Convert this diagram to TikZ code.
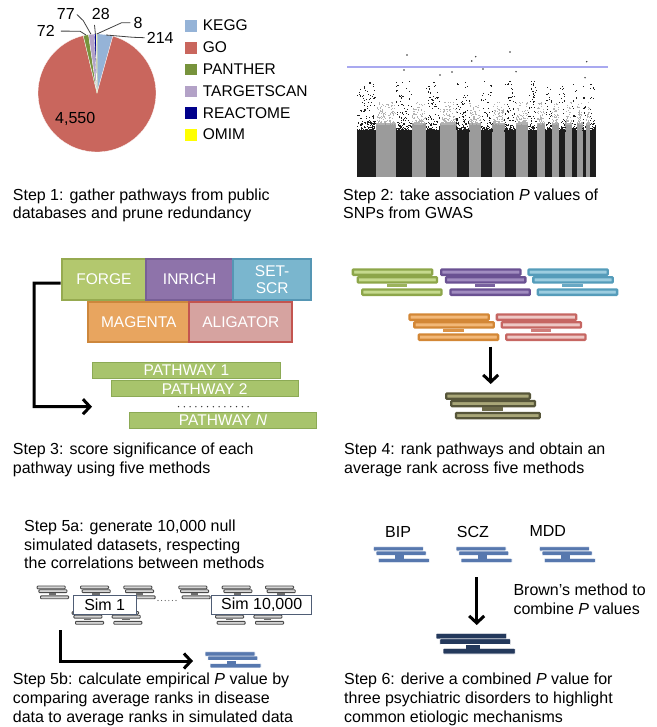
\documentclass[tikz,border=0pt]{standalone}
\usepackage{fontspec}
\setmainfont{Liberation Sans}
\usetikzlibrary{arrows.meta}
\definecolor{cKEGG}{HTML}{95B3D7}
\definecolor{cGO}{HTML}{C9665D}
\definecolor{cPAN}{HTML}{77933C}
\definecolor{cTS}{HTML}{B3A2C7}
\definecolor{cREA}{HTML}{00008B}
\definecolor{cOMIM}{HTML}{FFFF00}
\definecolor{gD}{HTML}{8DA64A}\definecolor{gL}{HTML}{C6DA8E}
\definecolor{pD}{HTML}{6A5192}\definecolor{pL}{HTML}{A18CC0}
\definecolor{bD}{HTML}{559CBA}\definecolor{bL}{HTML}{9CCDE0}
\definecolor{oD}{HTML}{D38736}\definecolor{oL}{HTML}{F2B878}
\definecolor{rD}{HTML}{C66662}\definecolor{rL}{HTML}{EEC8C5}
\definecolor{olD}{HTML}{57563A}\definecolor{olL}{HTML}{A9A778}
\definecolor{simD}{HTML}{4A4A4A}\definecolor{simL}{HTML}{D4D4D4}
\definecolor{stBlue}{HTML}{5778AE}
\definecolor{navy}{HTML}{24395C}
\definecolor{mgray}{HTML}{9B9B9B}
\definecolor{mgrayd}{HTML}{B2B2B2}
\definecolor{mblack}{HTML}{1E1E1E}
\definecolor{thr}{HTML}{A9A9F0}
\definecolor{forgeF}{HTML}{B3C86E}\definecolor{forgeD}{HTML}{96AA50}
\definecolor{inrF}{HTML}{8E73AA}\definecolor{inrD}{HTML}{785F96}
\definecolor{setF}{HTML}{7AB6CE}\definecolor{setD}{HTML}{5596B4}
\definecolor{magF}{HTML}{E8A55F}\definecolor{magD}{HTML}{CD873C}
\definecolor{aliF}{HTML}{D6A3A0}\definecolor{aliD}{HTML}{C35550}
\definecolor{pathF}{HTML}{A8C46C}\definecolor{pathD}{HTML}{8CAA55}
\definecolor{simB}{HTML}{4F5D75}

\tikzset{
  captxt/.style={anchor=north west, inner sep=0pt, align=left, font=\fontsize{16}{18.8}\selectfont},
  legtxt/.style={anchor=base west, inner sep=0pt, font=\fontsize{15.5}{17}\selectfont},
  numtxt/.style={anchor=base west, inner sep=0pt, font=\fontsize{16}{18}\selectfont},
  leader/.style={draw=black!75, line width=0.8},
  mbox/.style={rectangle, line width=2.2, text=white, inner sep=0pt, align=center, font=\fontsize{15.5}{16.5}\selectfont},
  pbar/.style={rectangle, fill=pathF, draw=pathD, line width=1, text=white, inner sep=0pt, minimum height=15.6, minimum width=187.3, font=\fontsize{15.5}{16}\selectfont},
  bigarrow/.style={line width=3, -{Straight Barb[length=7pt,width=15pt]}},
  simbox/.style={rectangle, fill=white, draw=simB, line width=0.8, inner sep=0pt, minimum height=19, font=\fontsize{16}{18}\selectfont},
}

% outlined stack: x y W h dark light lw
\newcommand\ostack[7]{%
\begin{scope}[shift={(#1,#2)}]
\pgfmathsetmacro\oW{#3}\pgfmathsetmacro\oh{#4}\pgfmathsetmacro\hl{#7/2}
\filldraw[draw=#5, fill=#6, line width=#7, rounded corners=0.8] (\hl,\hl) rectangle (\oW-\hl,\oh-\hl);
\filldraw[draw=#5, fill=#6, line width=#7, rounded corners=0.8] (0.06*\oW+\hl,\oh+\hl) rectangle (1.06*\oW-\hl,2*\oh-\hl);
\fill[#5!75!#6] (0.43*\oW,2*\oh) rectangle (0.68*\oW,2.45*\oh);
\filldraw[draw=#5, fill=#6, line width=#7, rounded corners=0.8] (0.115*\oW+\hl,2.6*\oh+\hl) rectangle (1.115*\oW-\hl,3.6*\oh-\hl);
\end{scope}}

% filled stack: x y W h colour
\newcommand\fstack[5]{%
\begin{scope}[shift={(#1,#2)}]
\pgfmathsetmacro\oW{#3}\pgfmathsetmacro\oh{#4}
\filldraw[fill=#5, draw=white, line width=0.6, rounded corners=0.6] (0,0) rectangle (\oW,\oh);
\filldraw[fill=#5, draw=white, line width=0.6, rounded corners=0.6] (0.055*\oW,\oh) rectangle (1.055*\oW,2*\oh);
\filldraw[fill=#5, draw=white, line width=0.6, rounded corners=0.6] (0.1*\oW,2.7*\oh) rectangle (1.12*\oW,3.7*\oh);
\fill[#5] (0.43*\oW,2*\oh) rectangle (0.62*\oW,2.75*\oh);
\end{scope}}

\begin{document}
\begin{tikzpicture}[x=1pt,y=-1pt]
\useasboundingbox (0,0) rectangle (656,727);

%% ---------- Step 1: pie ----------
\coordinate (pc) at (97,93);
\foreach \a/\b/\c in {-90/-74.433/cKEGG, -74.433/256.543/cGO, 256.543/261.78/cPAN, 261.78/267.381/cTS, 267.381/269.418/cREA, 269.418/270/cOMIM}
  \filldraw[fill=\c, draw=white, line width=0.3] (pc) -- ++(\a:59) arc[start angle=\a, end angle=\b, radius=59] -- cycle;

\node[numtxt] (n4550) at (55,124) {4,550};
\node[numtxt] (n72) at (36.7,36.7) {72};
\node[numtxt] (n77) at (56.7,20) {77};
\node[numtxt] (n28) at (91.7,20) {28};
\node[numtxt] (n8) at (133.3,28.3) {8};
\node[numtxt] (n214) at (146.7,43.3) {214};
\coordinate (e72) at (86,35);
\coordinate (e77) at (91,34.3);
\coordinate (e28) at (95.4,34);
\coordinate (e8) at (96.8,34);
\coordinate (e214) at (106,35);
\draw[leader] ([xshift=6pt]n72.east) -- (80,31.2) -- (e72);
\draw[leader] ([xshift=2pt]n77.east) -- (83.3,20.7) -- (e77);
\draw[leader] (94.5,25) -- (e28);
\draw[leader] ([xshift=-3pt]n8.west) -- (121.7,22.7) -- (e8);
\draw[leader] ([xshift=-2pt]n214.west) -- (133,37.3) -- (e214);

\foreach \n/\c [count=\i from 0] in {KEGG/cKEGG, GO/cGO, PANTHER/cPAN, TARGETSCAN/cTS, REACTOME/cREA, OMIM/cOMIM}{
  \pgfmathsetmacro\yb{30.7+21.85*\i}
  \fill[\c] (185,\yb-10.7) rectangle (196.7,\yb+1);
  \node[legtxt] (leg\i) at (202.7,\yb) {\n};
}

\node[captxt] (s1) at (12.7,188.4) {Step 1: gather pathways from public\\databases and prune redundancy};

%% ---------- Step 2: Manhattan ----------
\pgfmathsetseed{7}
\foreach \a/\b in {376/396, 411.7/426, 440/456.7, 469.3/481, 492.3/504.7, 516/528.3, 536.7/545, 551.7/559.3, 565.3/572.3, 576.7/582.7, 586/590}{
  \fill[mgray] (\a,123) rectangle (\b,176.7);
  \pgfmathtruncatemacro\nd{8*(\b-\a)}
  \foreach \i in {1,...,\nd}{
    \pgfmathsetmacro\xx{\a+rnd*(\b-\a-1)}
    \pgfmathsetmacro\uu{rnd}
    \pgfmathsetmacro\yy{123.5-22*\uu*\uu*\uu}
    \fill[mgrayd] (\xx,\yy) rectangle ++(1.1,1.1);
  }
}
\foreach \a/\b in {357.3/376, 396/411.7, 426/440, 456.7/469.3, 481/492.3, 504.7/516, 528.3/536.7, 545/551.7, 559.3/565.3, 572.3/576.7, 582.7/586, 590/596}{
  \fill[mblack] (\a,130) rectangle (\b,176.7);
  \pgfmathtruncatemacro\nd{14*(\b-\a)}
  \foreach \i in {1,...,\nd}{
    \pgfmathsetmacro\xx{\a-0.5+rnd*(\b-\a)}
    \pgfmathsetmacro\uu{rnd}
    \pgfmathsetmacro\yy{130.5-50*\uu*\uu*\uu*\uu*\uu*\uu}
    \fill[mblack] (\xx,\yy) rectangle ++(1.1,1.1);
  }
}
\foreach \p in {(407,55),(475.7,56.7),(471.7,61),(510,52),(586.7,61.7),(483,69),(404,70),(516,71.7),(585,77.7),(440,75),(452,72)}
  \fill[black!80] \p circle (0.8);
\draw[thr, line width=1.4] (347,67) -- (608,67);

\node[captxt] (s2) at (343,188.4) {Step 2: take association \textit{P} values of\\SNPs from GWAS};

%% ---------- Step 3 ----------
\node[mbox, fill=forgeF, draw=forgeD, minimum width=84.3, minimum height=40.7] (forge) at (103.85,279.65) {FORGE};
\node[mbox, fill=inrF, draw=inrD, minimum width=87.3, minimum height=40.7] (inrich) at (189.65,279.65) {INRICH};
\node[mbox, fill=setF, draw=setD, minimum width=77.7, minimum height=40.7] (setscr) at (272.15,279.65) {SET-\\SCR};
\node[mbox, fill=magF, draw=magD, minimum width=101, minimum height=40] (magenta) at (138.8,321.7) {MAGENTA};
\node[mbox, fill=aliF, draw=aliD, minimum width=103, minimum height=40] (aligator) at (240.8,321.7) {ALIGATOR};

\node[pbar] (pw1) at (186.35,370.5) {PATHWAY 1};
\node[pbar] (pw2) at (204.65,388.7) {PATHWAY 2};
\node[pbar] (pwN) at (223,420.3) {PATHWAY \textit{N}};
\draw[line width=1.5, line cap=round, dash pattern=on 0pt off 5.8pt, draw=black!80] (178.5,406.7) -- (253,406.7);

\coordinate (brk) at (34,283.2);
\coordinate (p3in) at (92,406.7);
\draw[bigarrow] ([yshift=-3.5pt]forge.west) -- (brk) |- (p3in);

\node[captxt] (s3) at (12.7,443) {Step 3: score significance of each\\pathway using five methods};

%% ---------- Step 4 ----------
\ostack{351.7}{268.3}{81.6}{7.7}{gD}{gL}{2.3}
\ostack{440}{268.3}{81.6}{7.7}{pD}{pL}{2.3}
\ostack{527.3}{268.3}{81.6}{7.7}{bD}{bL}{2.3}
\ostack{408.3}{313.3}{81.6}{7.7}{oD}{oL}{2.3}
\ostack{495.7}{313.3}{81.6}{7.7}{rD}{rL}{2.3}
\coordinate (a4s) at (490.7,346.7);
\coordinate (a4e) at (490.7,384);
\draw[bigarrow] (a4s) -- (a4e);
\ostack{445}{392.3}{86}{7.5}{olD}{olL}{2.3}

\node[captxt] (s4) at (344,443) {Step 4: rank pathways and obtain an\\average rank across five methods};

%% ---------- Step 5 ----------
\node[captxt] (s5a) at (24,519.5) {Step 5a: generate 10,000 null\\simulated datasets, respecting\\the correlations between methods};

\foreach \x/\y in {36.7/585.5, 80/585.5, 123.3/585.5, 71.7/611, 110/611, 178.3/585.5, 221.7/585.5, 265/585.5, 213.3/611, 251.7/611}
  \ostack{\x}{\y}{29}{3.8}{simD}{simL}{0.9}
\node[simbox, minimum width=62.7] (sim1) at (104.7,604.5) {Sim 1};
\node[simbox, minimum width=100] (simN) at (261.7,604.5) {Sim 10,000};
\draw[line width=1.1, line cap=round, dash pattern=on 0pt off 3.6pt, draw=black!70] (158,600.5) -- (177,600.5);

\coordinate (a5s) at (60,630);
\coordinate (a5e) at (193,661);
\draw[bigarrow] (a5s) |- (a5e);
\fstack{205}{651.7}{50}{4.4}{stBlue}

\node[captxt] (s5b) at (12.7,672.6) {Step 5b: calculate empirical \textit{P} value by\\comparing average ranks in disease\\data to average ranks in simulated data};

%% ---------- Step 6 ----------
\node[numtxt] (bip) at (385,537.7) {BIP};
\node[numtxt] (scz) at (456.7,537.7) {SCZ};
\node[numtxt] (mdd) at (529.3,536.7) {MDD};
\fstack{373.3}{546.7}{50}{4.3}{stBlue}
\fstack{456}{546.7}{50}{4.3}{stBlue}
\fstack{539.3}{546.7}{50}{4.3}{stBlue}
\coordinate (a6s) at (476.7,577.3);
\coordinate (a6e) at (476.7,625);
\draw[bigarrow] (a6s) -- (a6e);
\node[captxt] (brown) at (513.3,583.8) {Brown’s method to\\combine \textit{P} values};
\fstack{436}{633.3}{70.7}{5.6}{navy}

\node[captxt] (s6) at (344,672.6) {Step 6: derive a combined \textit{P} value for\\three psychiatric disorders to highlight\\common etiologic mechanisms};
\end{tikzpicture}
\end{document}
